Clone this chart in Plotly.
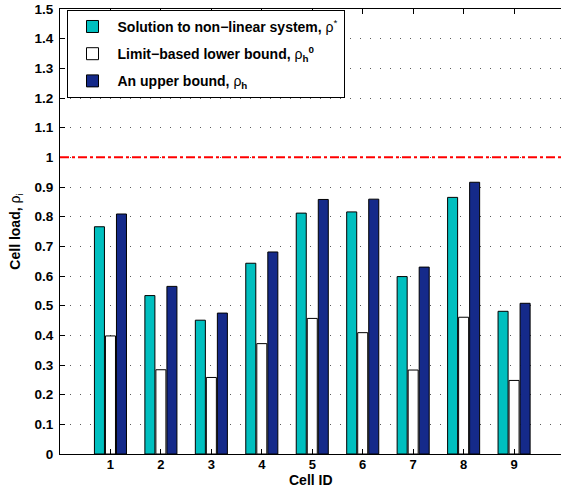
import plotly.graph_objects as go

cells = [1, 2, 3, 4, 5, 6, 7, 8, 9]
rho_star = [0.766, 0.534, 0.451, 0.643, 0.812, 0.816, 0.598, 0.865, 0.481]
rho_lower = [0.398, 0.284, 0.258, 0.372, 0.457, 0.409, 0.283, 0.461, 0.248]
rho_upper = [0.809, 0.565, 0.475, 0.681, 0.858, 0.859, 0.630, 0.916, 0.508]
threshold = 1.0
y_ticks = [0, 0.1, 0.2, 0.3, 0.4, 0.5, 0.6, 0.7, 0.8, 0.9, 1, 1.1, 1.2, 1.3, 1.4, 1.5]
y_tick_text = ["0", "0.1", "0.2", "0.3", "0.4", "0.5", "0.6", "0.7", "0.8", "0.9", "1",
               "1.1", "1.2", "1.3", "1.4", "1.5"]
x_title = "Cell ID"

names = [
    "<b>Solution to non\u2212linear system, </b>ρ<sup>*</sup>",
    "<b>Limit\u2212based lower bound, </b>ρ<sub><b>h</b></sub><sup><b>0</b></sup>",
    "<b>An upper bound, </b>ρ<sub><b>h</b></sub>",
]
colors = ["#00BFBF", "#FFFFFF", "#152A8A"]
series = [rho_star, rho_lower, rho_upper]

FONT = "Liberation Sans, Arial, Helvetica, sans-serif"

fig = go.Figure()
for i, (name, col, vals) in enumerate(zip(names, colors, series)):
    fig.add_trace(go.Bar(
        x=cells, y=vals, name=name, legendgroup=f"g{i}",
        marker=dict(color=col, line=dict(color="black", width=1)),
    ))

fig.add_shape(type="line", xref="paper", x0=0, x1=1, yref="y", y0=threshold, y1=threshold,
              line=dict(color="red", width=2, dash="dashdot"), layer="above")

fig.add_annotation(text=f"<b>{x_title}</b>", xref="paper", yref="paper", x=0.5, y=0,
                   xanchor="center", yanchor="middle", yshift=-26, showarrow=False,
                   borderpad=0,
                   font=dict(family=FONT, size=14, color="black"))

fig.update_layout(
    width=561, height=488,
    margin=dict(l=60, r=0, t=9, b=34),
    paper_bgcolor="white", plot_bgcolor="white",
    barmode="group", bargap=0.345, bargroupgap=0.09,
    font=dict(family=FONT, size=13, color="black"),
    legend=dict(
        x=0.013, y=0.998, xanchor="left", yanchor="top",
        bgcolor="white", bordercolor="black", borderwidth=1,
        font=dict(family=FONT, size=14, color="black"),
        itemwidth=40, traceorder="grouped", tracegroupgap=6,
    ),
    xaxis=dict(
        range=[0, 9.93], tickmode="array", tickvals=cells,
        ticktext=[f"<b>{c}</b>" for c in cells],
        showline=True, linecolor="black", linewidth=1, mirror="ticks",
        ticks="inside", ticklen=5, tickcolor="black", showgrid=False, zeroline=False,
        tickfont=dict(size=13), automargin=False, ticklabelstandoff=-2,
    ),
    yaxis=dict(
        range=[0, 1.5], tickmode="array", tickvals=y_ticks,
        ticktext=[f"<b>{t}</b>" for t in y_tick_text],
        showline=True, linecolor="black", linewidth=1, mirror=False,
        ticks="inside", ticklen=5, tickcolor="black", ticklabelstandoff=3,
        showgrid=True, gridcolor="#5a5a5a", gridwidth=1, griddash="1px,9px",
        zeroline=False,
        title=dict(text="<b>Cell load, </b>ρ<sub>i</sub>", font=dict(size=14), standoff=10),
        tickfont=dict(size=13.5),
    ),
)

fig.write_html("out.html")
